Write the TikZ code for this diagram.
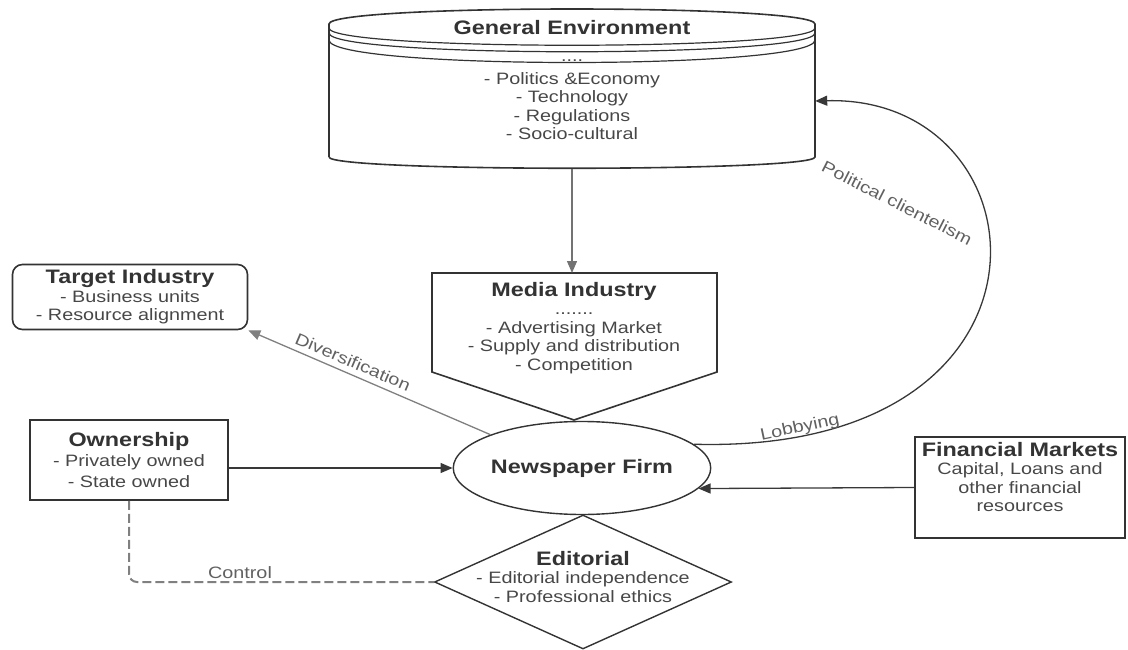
\documentclass[tikz,border=0pt]{standalone}
\usepackage{fontspec}
\usepackage{tikz}
\usetikzlibrary{shapes.geometric,arrows.meta}
\newfontfamily\diagfont{Liberation Sans}[FakeStretch=1.2]
\newcommand{\headfont}{\diagfont\bfseries\fontsize{19.5}{22}\selectfont}
\newcommand{\listfont}{\diagfont\fontsize{16.5}{18.5}\selectfont}

\begin{document}
\begin{tikzpicture}[x=1pt,y=-1pt,
    box/.style={draw=black!80,line width=1.6pt,align=center,inner sep=0pt,font=\listfont,text=black!72},
    link/.style={-{Triangle[length=12pt,width=10pt]},line width=1.3pt,draw=black!78},
    lbl/.style={font=\listfont,text=black!62,inner sep=0pt}]
          \useasboundingbox (0,0) rectangle (1128,650);

          % general environment (drum)
          \node[minimum width=486pt,minimum height=160pt] (genv) at (572,89) {};
          \draw[draw=black!80,line width=1.6pt] (329,157) -- (329,24) .. controls (329,4) and (815,4) .. (815,24)
                -- (815,157) .. controls (815,172) and (329,172) .. (329,157);
          \draw[draw=black!80,line width=1.2pt] (329,28) .. controls (329,51) and (815,51) .. (815,28);
          \draw[draw=black!80,line width=1.2pt] (329,33) .. controls (329,58) and (815,58) .. (815,33);
          \draw[draw=black!80,line width=1.2pt] (329,40) .. controls (329,70) and (815,70) .. (815,40);
          \node[font=\headfont,text=black!80] (genvhead) at (572,28) {General Environment};
          \node[align=center,font=\listfont,text=black!72,inner sep=0pt,anchor=north] (genvlist) at (572,60)
                {....\\[4pt]- Politics \&Economy\\- Technology\\- Regulations\\- Socio-cultural};

          % media industry
          \draw[draw=black!80,line width=1.6pt] (432,273) -- (717,273) -- (717,372) -- (574,420) -- (432,372) -- cycle;
          \coordinate (mediatop) at (572,273);
          \node[align=center,font=\listfont,text=black!72,inner sep=0pt,anchor=north] (media) at (574,282)
                {{\headfont\color{black!80}Media Industry}\\.......\\- Advertising Market\\- Supply and distribution\\- Competition};

          \node[ellipse,draw=black!80,line width=1.4pt,minimum width=229pt,minimum height=93pt,inner sep=0pt,
                font=\headfont,text=black!80] (firm) at (582,468) {Newspaper Firm};
          \node[diamond,draw=black!80,line width=1.4pt,minimum width=297pt,minimum height=134pt,inner sep=0pt] (edit) at (583,582) {};
          \node[align=center,font=\listfont,text=black!72,inner sep=0pt,anchor=north] (edittext) at (583,551)
                {{\headfont\color{black!80}Editorial}\\- Editorial independence\\- Professional ethics};

          \node[box,rounded corners=10pt,minimum width=235pt,minimum height=65pt] (target) at (130,297)
                {{\headfont\color{black!80}Target Industry}\\- Business units\\- Resource alignment};
          \node[box,minimum width=198pt,minimum height=80pt] (own) at (129,460)
                {{\headfont\color{black!80}Ownership}\\[2pt]- Privately owned\\[2pt]- State owned};
          \node[box,minimum width=210pt,minimum height=101pt] (fin) at (1020,487.5) {};
          \node[align=center,font=\listfont,text=black!72,inner sep=0pt,anchor=north] (fintext) at (1020,442)
                {{\headfont\color{black!80}Financial Markets}\\Capital, Loans and\\other financial\\resources};

          \draw[link,draw=black!55] (genv.south) -- (mediatop);
          \draw[link] (own.east |- firm.west) -- (firm.west);
          \draw[link,draw=black!50] (firm.160) -- (target.south east);
          \draw[link] (fin.west) -- (firm.-10);
          \draw[link] (firm.12) .. controls (1080,455) and (1050,95) .. ([yshift=-12pt]genv.east);
          \draw[draw=black!50,line width=2pt,dash pattern=on 9pt off 4pt,rounded corners=8pt] (own.south) |- (edit.west);

          \node[lbl,rotate=-23] (divlabel) at (353,362) {Diversification};
          \node[lbl,rotate=12] (loblabel) at (800,428) {Lobbying};
          \node[lbl,rotate=-27] (pollabel) at (897,203) {Political clientelism};
          \node[lbl] (ctrllabel) at (240,573) {Control};
        \end{tikzpicture}
\end{document}
